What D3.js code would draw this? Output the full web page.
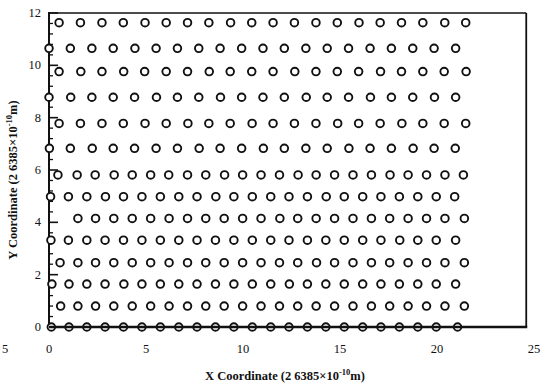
<!DOCTYPE html>
<html>
<head>
<meta charset="utf-8">
<script src="https://cdn.jsdelivr.net/npm/d3@7"></script>
<style>
  body { margin: 0; background: #fff; }
  svg { display: block; }
  text { font-family: "Liberation Serif", "DejaVu Serif", serif; fill: #111; }
</style>
</head>
<body>
<svg id="chart" width="546" height="385"></svg>
<script>
// row heights (y, in units of 2.6385e-10 m), top to bottom
const rowY = [11.63, 10.65, 9.76, 8.78, 7.78, 6.83, 5.81, 4.98, 4.15, 3.32, 2.46, 1.64, 0.80, 0];

// atom x positions for each row, same order as rowY
const rowX = [
  [0.52, 1.62, 2.73, 3.83, 4.95, 6.04, 7.14, 8.24, 9.36, 10.45, 11.55, 12.65, 13.76, 14.86, 15.98, 17.07, 18.17, 19.27, 20.40, 21.48],
  [0.00, 1.10, 2.21, 3.31, 4.43, 5.52, 6.62, 7.72, 8.82, 9.93, 11.03, 12.13, 13.24, 14.34, 15.44, 16.55, 17.65, 18.75, 19.85, 20.96],
  [0.52, 1.64, 2.73, 3.85, 4.93, 6.04, 7.14, 8.26, 9.34, 10.45, 11.55, 12.67, 13.76, 14.86, 15.96, 17.09, 18.17, 19.27, 20.37, 21.50],
  [0.00, 1.12, 2.21, 3.31, 4.41, 5.54, 6.62, 7.72, 8.84, 9.93, 11.03, 12.13, 13.26, 14.34, 15.44, 16.57, 17.65, 18.75, 19.87, 20.96],
  [0.52, 1.62, 2.73, 3.83, 4.95, 6.04, 7.16, 8.24, 9.34, 10.47, 11.55, 12.65, 13.76, 14.88, 15.96, 17.07, 18.19, 19.27, 20.37, 21.48],
  [0.02, 1.10, 2.23, 3.31, 4.41, 5.52, 6.62, 7.74, 8.82, 9.93, 11.05, 12.13, 13.24, 14.34, 15.46, 16.55, 17.65, 18.77, 19.85, 20.94],
  [0.46, 1.45, 2.38, 3.36, 4.29, 5.24, 6.17, 7.14, 8.08, 9.05, 9.98, 10.93, 11.88, 12.84, 13.77, 14.72, 15.67, 16.62, 17.58, 18.51, 19.46, 20.41, 21.36],
  [0.08, 1.00, 1.95, 2.91, 3.84, 4.79, 5.74, 6.69, 7.63, 8.60, 9.53, 10.48, 11.43, 12.37, 13.32, 14.29, 15.22, 16.17, 17.11, 18.06, 19.01, 19.96, 20.91],
  [1.49, 2.40, 3.34, 4.29, 5.24, 6.19, 7.14, 8.08, 9.03, 9.98, 10.93, 11.90, 12.82, 13.77, 14.72, 15.67, 16.62, 17.56, 18.51, 19.46, 20.41, 21.41],
  [0.10, 1.00, 1.95, 2.89, 3.84, 4.79, 5.74, 6.69, 7.63, 8.58, 9.53, 10.48, 11.43, 12.37, 13.32, 14.27, 15.22, 16.17, 17.11, 18.08, 19.01, 19.96, 20.96],
  [0.57, 1.49, 2.40, 3.34, 4.29, 5.24, 6.19, 7.14, 8.08, 9.03, 9.98, 10.93, 11.88, 12.82, 13.79, 14.72, 15.67, 16.62, 17.56, 18.51, 19.46, 20.41, 21.41],
  [0.15, 1.03, 1.95, 2.89, 3.86, 4.79, 5.74, 6.69, 7.63, 8.58, 9.53, 10.48, 11.43, 12.39, 13.32, 14.27, 15.22, 16.17, 17.11, 18.06, 19.01, 19.96, 20.96],
  [0.60, 1.49, 2.40, 3.34, 4.29, 5.24, 6.19, 7.14, 8.08, 9.03, 9.98, 10.93, 11.88, 12.82, 13.77, 14.72, 15.67, 16.62, 17.56, 18.51, 19.46, 20.41, 21.41],
  [0.12, 1.03, 1.95, 2.89, 3.84, 4.79, 5.74, 6.69, 7.63, 8.58, 9.53, 10.48, 11.43, 12.37, 13.32, 14.27, 15.22, 16.17, 17.11, 18.06, 19.01, 19.96, 21.06]
];

const xTicks = [0, 5, 10, 15, 20, 25];
const yTicks = [0, 2, 4, 6, 8, 10, 12];
const xTitle = 'X Coordinate (2 6385\u00d710';
const yTitle = 'Y Coordinate (2 6385\u00d710';

const svg = d3.select('#chart');

const x = d3.scaleLinear().domain([0, 25]).range([49, 534]);
const y = d3.scaleLinear().domain([0, 12]).range([327, 13]);
const xRight = 24.6; // frame edge sits a bit short of 25 in the scan

// atoms
const atoms = [];
rowY.forEach((yy, i) => {
  rowX[i].forEach((xx) => atoms.push({ x: xx, y: yy }));
});

// frame
const frame = svg.append('g');
frame.append('line')
  .attr('x1', x(0)).attr('x2', x(xRight))
  .attr('y1', y(12)).attr('y2', y(12))
  .style('stroke', '#111').style('stroke-width', 1.6);
frame.append('line')
  .attr('x1', x(xRight)).attr('x2', x(xRight))
  .attr('y1', y(12)).attr('y2', y(0))
  .style('stroke', '#111').style('stroke-width', 1.8);
frame.append('line')
  .attr('x1', x(0)).attr('x2', x(0))
  .attr('y1', y(12) - 1).attr('y2', y(0) + 1)
  .style('stroke', '#111').style('stroke-width', 2);

// y ticks, inward: major every 2, minor every 0.4
const minor = d3.range(0, 12.01, 0.4).filter((v) => Math.abs(v / 2 - Math.round(v / 2)) > 0.01);
svg.append('g').selectAll('line.minor')
  .data(minor)
  .enter().append('line')
  .attr('class', 'minor')
  .attr('x1', x(0)).attr('x2', x(0) + 4)
  .attr('y1', (d) => y(d)).attr('y2', (d) => y(d))
  .style('stroke', '#111').style('stroke-width', 1.3);
svg.append('g').selectAll('line.major')
  .data(yTicks)
  .enter().append('line')
  .attr('class', 'major')
  .attr('x1', x(0)).attr('x2', x(0) + 9)
  .attr('y1', (d) => y(d)).attr('y2', (d) => y(d))
  .style('stroke', '#111').style('stroke-width', 1.6);

svg.append('g').selectAll('text')
  .data(yTicks)
  .enter().append('text')
  .attr('x', x(0) - 8)
  .attr('y', (d) => y(d) + 4)
  .attr('text-anchor', 'end')
  .style('font-size', '12.5px')
  .text((d) => d);

svg.append('g').selectAll('text')
  .data(xTicks)
  .enter().append('text')
  .attr('x', (d) => x(d))
  .attr('y', 353)
  .attr('text-anchor', 'middle')
  .style('font-size', '12.5px')
  .text((d) => d);
// clipped "-5" label at far left of the scan
svg.append('text')
  .attr('x', 5).attr('y', 353)
  .attr('text-anchor', 'middle')
  .style('font-size', '12.5px')
  .text('5');

// atoms
svg.append('g').selectAll('circle.atom')
  .data(atoms)
  .enter().append('circle')
  .attr('class', 'atom')
  .attr('cx', (d) => x(d.x))
  .attr('cy', (d) => y(d.y))
  .attr('r', 3.8)
  .style('fill', '#fff')
  .style('stroke', '#111')
  .style('stroke-width', 1.9);

// bottom axis drawn over the bottom row
svg.append('line')
  .attr('x1', x(0)).attr('x2', x(xRight) + 1)
  .attr('y1', y(0)).attr('y2', y(0))
  .style('stroke', '#111').style('stroke-width', 2.6);

// axis titles
const xt = svg.append('text')
  .attr('x', 285).attr('y', 380)
  .attr('text-anchor', 'middle')
  .style('font-size', '12.5px')
  .style('font-weight', 'bold');
xt.append('tspan').text(xTitle);
xt.append('tspan').attr('dy', -5).style('font-size', '8.5px').text('-10');
xt.append('tspan').attr('dy', 5).text('m)');

const yt = svg.append('text')
  .attr('transform', 'translate(17,180) rotate(-90)')
  .attr('text-anchor', 'middle')
  .style('font-size', '12.5px')
  .style('font-weight', 'bold');
yt.append('tspan').text(yTitle);
yt.append('tspan').attr('dy', -5).style('font-size', '8.5px').text('-10');
yt.append('tspan').attr('dy', 5).text('m)');
</script>
</body>
</html>
